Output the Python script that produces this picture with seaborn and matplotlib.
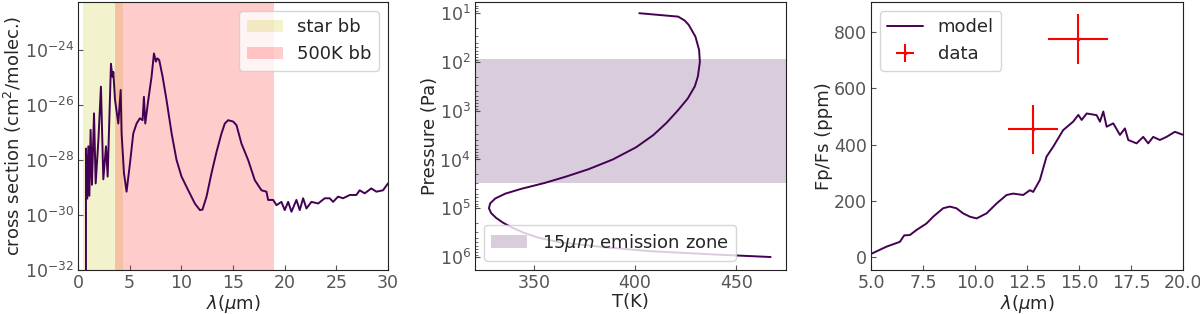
import numpy as np
import pandas as pd
import matplotlib
matplotlib.use("Agg")
import matplotlib.pyplot as plt
import seaborn as sns

# panel 1: cross section (log10 of cm^2/molec.) vs wavelength (um)
xs_wl = [0.77, 0.77, 0.9, 1.0, 1.1, 1.22, 1.35, 1.55, 1.71, 1.97, 2.22, 2.45, 2.71, 2.87,
         3.19, 3.32, 3.42, 3.58, 3.9, 4.13, 4.22, 4.45, 4.7, 5.03, 5.35, 5.67, 5.99, 6.25,
         6.38, 6.51, 6.8, 7.12, 7.35, 7.54, 7.67, 7.86, 8.19, 8.57, 9.06, 9.54, 10.02,
         10.67, 11.31, 11.8, 12.05, 12.44, 12.92, 13.41, 13.89, 14.21, 14.53, 15.02, 15.34,
         15.82, 16.47, 17.11, 17.76, 18.24, 18.4, 18.89, 19.21, 19.69, 20.01, 20.34, 20.66,
         21.14, 21.46, 21.79, 22.11, 22.59, 23.24, 23.88, 24.37, 24.69, 25.17, 25.65, 26.3,
         26.94, 27.26, 27.75, 28.39, 28.88, 29.52, 30.0]
xs_log = [-33.0, -27.58, -29.4, -27.5, -29.3, -26.9, -28.9, -26.3, -28.85, -27.3, -25.33,
          -28.7, -27.5, -28.6, -24.5, -24.97, -24.79, -25.8, -26.67, -25.45, -27.03, -28.48,
          -29.15, -28.12, -27.03, -26.67, -26.48, -26.55, -25.7, -26.67, -25.82, -24.97,
          -24.12, -24.42, -24.3, -24.36, -24.97, -25.82, -27.03, -28.0, -28.6, -29.1, -29.58,
          -29.82, -29.8, -29.33, -28.48, -27.7, -27.03, -26.67, -26.55, -26.6, -26.73, -27.4,
          -28.0, -28.73, -29.1, -29.15, -29.45, -29.45, -29.64, -29.52, -29.82, -29.52,
          -29.88, -29.45, -29.82, -29.39, -29.76, -29.52, -29.58, -29.39, -29.39, -29.52,
          -29.33, -29.39, -29.27, -29.27, -29.1, -29.21, -29.03, -29.15, -29.1, -28.85]
star_band = (0.5, 4.4)
bb500_band = (3.6, 19.0)

# panel 2: temperature profile (T in K, log10 of P in Pa)
tp_T = [402.1, 421.3, 424.5, 426.5, 429.8, 431.6, 432.0, 431.0, 429.5, 426.0, 421.0, 415.5,
        409.0, 400.5, 389.0, 377.0, 366.0, 355.5, 344.0, 336.0, 331.0, 328.5, 327.9, 329.0,
        331.5, 335.0, 339.5, 345.0, 352.0, 363.0, 385.0, 407.4, 440.0, 466.9]
tp_logP = [1.0, 1.07, 1.15, 1.24, 1.48, 1.75, 2.0, 2.3, 2.5, 2.75, 3.0, 3.25, 3.5, 3.75,
           4.0, 4.2, 4.35, 4.48, 4.6, 4.7, 4.8, 4.9, 5.0, 5.1, 5.2, 5.3, 5.4, 5.5, 5.6,
           5.7, 5.8, 5.88, 5.95, 6.0]
zone_logP = (1.94, 4.48)

# panel 3: emission spectrum
sp_wl = [5.0, 5.75, 6.39, 6.6, 6.87, 7.19, 7.67, 7.99, 8.47, 8.79, 9.11, 9.43, 9.76, 10.08,
         10.56, 11.04, 11.52, 11.84, 12.32, 12.64, 12.8, 13.12, 13.44, 13.76, 14.24, 14.72,
         14.97, 15.13, 15.37, 15.85, 16.01, 16.17, 16.33, 16.65, 16.97, 17.21, 17.37, 17.77,
         18.09, 18.33, 18.57, 18.89, 19.21, 19.61, 19.98]
sp_ppm = [12, 38, 55, 78, 79, 97, 120, 144, 174, 180, 174, 156, 144, 138, 156, 191, 221, 226,
          221, 238, 232, 274, 357, 392, 451, 481, 505, 487, 510, 504, 481, 517, 463, 475,
          434, 457, 416, 404, 427, 404, 427, 416, 427, 445, 435]
obs_wl = [12.77, 14.97]
obs_wl_err = [1.2, 1.44]
obs_ppm = [454, 774]
obs_ppm_err = [86, 88]

line_c = "#440154"

sns.set_style("ticks")
plt.rcParams.update({
    "font.family": ["DejaVu Sans"],
    "xtick.direction": "in",
    "ytick.direction": "in",
    "xtick.color": "#555555",
    "ytick.color": "#555555",
    "xtick.labelsize": 12.5,
    "ytick.labelsize": 12.5,
    "xtick.major.pad": 3,
    "ytick.major.pad": 3,
    "axes.labelsize": 13,
    "axes.labelpad": 0.5,
    "axes.edgecolor": "#222222",
    "legend.fontsize": 13,
})

fig = plt.figure(figsize=(12, 3.14), dpi=100)
ax1 = fig.add_axes([0.065, 0.140, 0.2583, 0.8535])
ax2 = fig.add_axes([0.3958, 0.140, 0.2592, 0.8535])
ax3 = fig.add_axes([0.7258, 0.140, 0.26, 0.8535])

# ---- panel 1
df1 = pd.DataFrame({"wl": xs_wl, "xs": np.power(10.0, xs_log)})
ax1.axvspan(*star_band, color="y", alpha=0.2, lw=0, label="star bb")
ax1.axvspan(*bb500_band, color="r", alpha=0.2, lw=0, label="500K bb")
sns.lineplot(data=df1, x="wl", y="xs", sort=False, estimator=None, color=line_c, lw=1.4, ax=ax1)
ax1.set_yscale("log")
ax1.set_xlim(0, 30)
ax1.set_xticks([0, 5, 10, 15, 20, 25, 30])
ax1.set_ylim(1e-32, 5.6e-23)
ax1.set_yticks([1e-32, 1e-30, 1e-28, 1e-26, 1e-24])
ax1.minorticks_off()
ax1.set_xlabel(r"$\lambda(\mu$m)")
ax1.set_ylabel(r"cross section (cm$^2$/molec.)")
ax1.legend(loc="upper right")

# ---- panel 2
df2 = pd.DataFrame({"T": tp_T, "P": np.power(10.0, tp_logP)})
ax2.axhspan(10 ** zone_logP[0], 10 ** zone_logP[1], color=line_c, alpha=0.2, lw=0,
            label=r"15$\mu m$ emission zone")
sns.lineplot(data=df2, x="T", y="P", sort=False, estimator=None, color=line_c, lw=1.4, ax=ax2)
ax2.set_yscale("log")
ax2.set_ylim(1.85e6, 5.9)
ax2.set_xlim(321, 474.5)
ax2.set_xticks([350, 400, 450])
ax2.set_xlabel("T(K)")
ax2.set_ylabel("Pressure (Pa)")
ax2.legend(loc="lower left")

# ---- panel 3
df3 = pd.DataFrame({"wl": sp_wl, "ppm": sp_ppm})
sns.lineplot(data=df3, x="wl", y="ppm", color=line_c, lw=1.4, ax=ax3, label="model")
ax3.errorbar(obs_wl, obs_ppm, xerr=obs_wl_err, yerr=obs_ppm_err, fmt=".", color="red",
             ms=3, lw=1.5, label="data")
ax3.set_xlim(5, 20)
ax3.set_ylim(-45, 905)
ax3.set_yticks([0, 200, 400, 600, 800])
ax3.set_xticks([5, 7.5, 10, 12.5, 15, 17.5, 20])
ax3.set_xticklabels(["5.0", "7.5", "10.0", "12.5", "15.0", "17.5", "20.0"])
ax3.set_xlabel(r"$\lambda(\mu$m)")
ax3.set_ylabel("Fp/Fs (ppm)")
ax3.legend(loc="upper left")

fig.savefig("out.png", dpi=100)
